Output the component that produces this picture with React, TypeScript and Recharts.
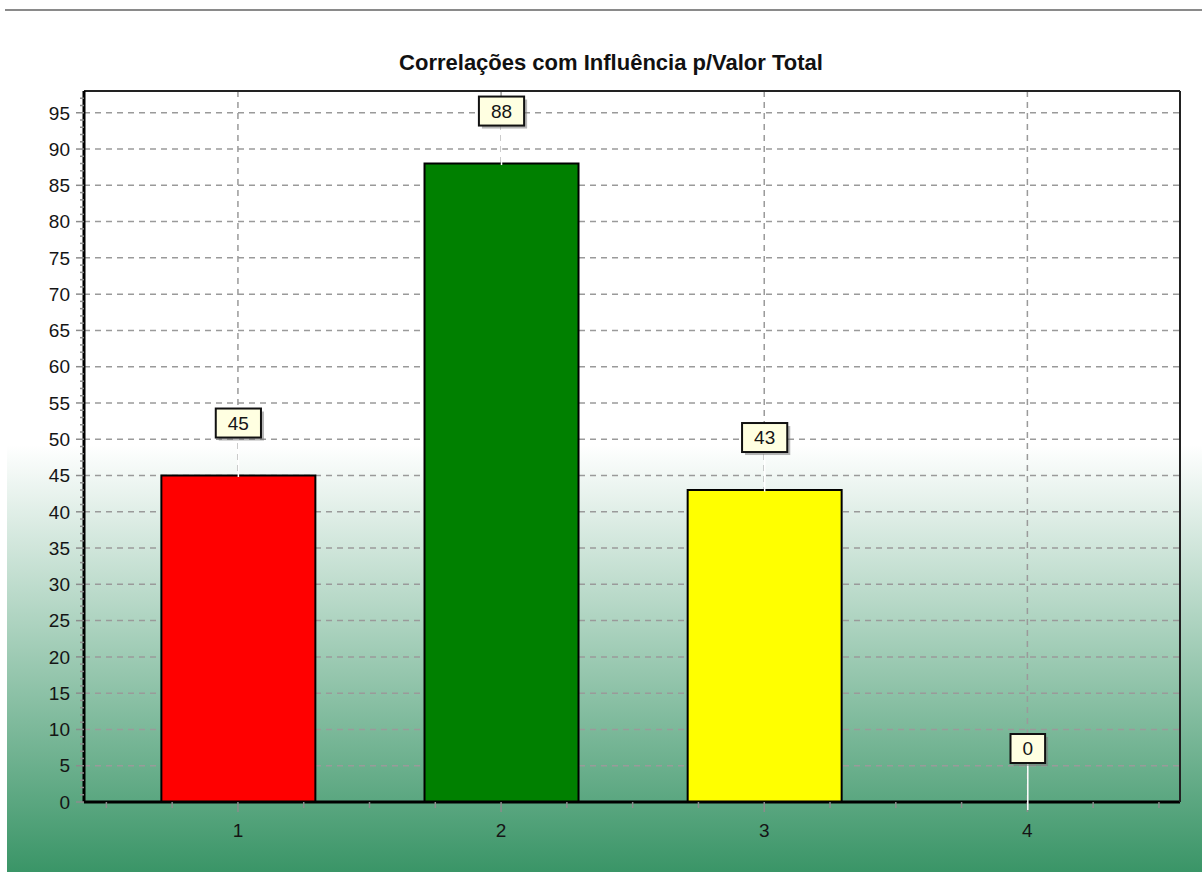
import React from 'react';
import { BarChart, Bar, XAxis, YAxis, CartesianGrid, Cell, LabelList } from 'recharts';

// Chart content
const chartTitle = 'Correlações com Influência p/Valor Total';
const categories = [1, 2, 3, 4];
const values = [45, 88, 43, 0];
const barColors = ['#ff0000', '#008000', '#ffff00', '#000000'];

// Axis ticks
const yMajorTicks = [0, 5, 10, 15, 20, 25, 30, 35, 40, 45, 50, 55, 60, 65, 70, 75, 80, 85, 90, 95];
const yGridValues = [5, 10, 15, 20, 25, 30, 35, 40, 45, 50, 55, 60, 65, 70, 75, 80, 85, 90, 95];
const xAllTicks = [0.5, 0.75, 1, 1.25, 1.5, 1.75, 2, 2.25, 2.5, 2.75, 3, 3.25, 3.5, 3.75, 4, 4.25, 4.5];
const X_DOMAIN: [number, number] = [0.415, 4.58];
const Y_DOMAIN: [number, number] = [0, 98];
const yAllTicks = Array.from({ length: 98 }, (_, i) => i);

const data = categories.map((c, i) => ({ x: c, value: values[i] }));

const FONT = '"Liberation Sans", Arial, sans-serif';
const TICK_COLOR = '#8c8c8c';
const TEXT_COLOR = '#151515';

const YTick = (props: any) => {
  const { x, y, payload } = props;
  const v = payload.value as number;
  const major = yMajorTicks.includes(v);
  return (
    <g>
      <line x1={x} x2={x - (major ? 8 : 4)} y1={y} y2={y} stroke={TICK_COLOR} strokeWidth={1.5} />
      {major && (
        <text x={x - 14} y={y} dy="0.355em" textAnchor="end" fontSize={19} fontFamily={FONT} fill={TEXT_COLOR}>
          {v}
        </text>
      )}
    </g>
  );
};

const XTick = (props: any) => {
  const { x, y, payload } = props;
  const v = payload.value as number;
  const major = categories.includes(v);
  return (
    <g>
      <line x1={x} x2={x} y1={y} y2={y + (major ? 10 : 6)} stroke={TICK_COLOR} strokeWidth={1.5} />
      {major && (
        <text x={x} y={y + 35} textAnchor="middle" fontSize={19} fontFamily={FONT} fill={TEXT_COLOR}>
          {v}
        </text>
      )}
    </g>
  );
};

// Boxed value tag above each bar, joined to the bar by a thin white leader
const ValueTag = (props: any) => {
  const vb = props.viewBox ?? {};
  const x = Number(vb.x ?? props.x);
  const y = Number(vb.y ?? props.y);
  const w = Number(vb.width ?? props.width);
  const h = Number(vb.height ?? props.height ?? 0);
  const top = h < 0 ? y + h : y;
  const cx = x + w / 2;
  const text = String(props.value);
  const boxW = text.length * 10.6 + 24;
  const boxH = 29;
  const boxBottom = top - 38;
  const boxTop = boxBottom - boxH;
  const leaderEnd = Number(props.value) === 0 ? top + 9 : top + 1.5;
  return (
    <g>
      <line x1={cx} x2={cx} y1={boxBottom} y2={leaderEnd} stroke="#ffffff" strokeWidth={1.5} />
      <rect x={cx - boxW / 2 + 3} y={boxTop + 3} width={boxW} height={boxH} fill="#7a7a7a" opacity={0.55} />
      <rect x={cx - boxW / 2} y={boxTop} width={boxW} height={boxH} fill="#ffffe1" stroke="#111111" strokeWidth={2} />
      <text x={cx} y={boxTop + boxH / 2} dy="0.355em" textAnchor="middle" fontSize={19} fontFamily={FONT} fill={TEXT_COLOR}>
        {text}
      </text>
    </g>
  );
};

export default function App() {
  return (
    <div
      style={{
        position: 'absolute',
        left: 0,
        top: 0,
        width: 1202,
        height: 872,
        background: '#ffffff',
        overflow: 'hidden',
        fontFamily: FONT,
      }}
    >
      <div
        style={{
          position: 'absolute',
          left: 7,
          top: 0,
          right: 0,
          bottom: 0,
          background: 'linear-gradient(180deg, #ffffff 0px, #ffffff 445px, #3a9567 872px)',
        }}
      />
      <div style={{ position: 'absolute', left: 5, top: 9, width: 1197, height: 2, background: '#8a8a8a' }} />
      <div
        style={{
          position: 'absolute',
          left: 211,
          top: 52,
          width: 800,
          textAlign: 'center',
          fontSize: 22,
          lineHeight: '22px',
          fontWeight: 'bold',
          color: '#111111',
          fontFamily: FONT,
        }}
      >
        {chartTitle}
      </div>
      <div style={{ position: 'absolute', left: 0, top: 0 }}>
        <BarChart width={1202} height={872} data={data} margin={{ top: 90, right: 21, bottom: 30, left: 14 }}>
          <CartesianGrid
            stroke="#9a9a9a"
            strokeWidth={1.5}
            strokeDasharray="6 5"
            horizontalValues={yGridValues}
            verticalValues={categories}
          />
          <XAxis
            dataKey="x"
            type="number"
            domain={X_DOMAIN}
            allowDataOverflow
            ticks={xAllTicks}
            interval={0}
            height={40}
            tickSize={0}
            tickMargin={0}
            tickLine={false}
            tick={<XTick />}
            axisLine={{ stroke: '#000000', strokeWidth: 3 }}
          />
          <XAxis
            xAxisId="top"
            orientation="top"
            type="number"
            domain={X_DOMAIN}
            allowDataOverflow
            ticks={[1]}
            height={1}
            tick={false}
            tickLine={false}
            axisLine={{ stroke: '#222222', strokeWidth: 2 }}
          />
          <YAxis
            type="number"
            domain={Y_DOMAIN}
            allowDataOverflow
            ticks={yAllTicks}
            interval={0}
            width={70}
            tickSize={0}
            tickMargin={0}
            tickLine={false}
            tick={<YTick />}
            axisLine={{ stroke: '#000000', strokeWidth: 3 }}
          />
          <YAxis
            yAxisId="right"
            orientation="right"
            type="number"
            domain={Y_DOMAIN}
            allowDataOverflow
            ticks={[0]}
            width={1}
            tick={false}
            tickLine={false}
            axisLine={{ stroke: '#222222', strokeWidth: 2 }}
          />
          <Bar
            dataKey="value"
            barSize={154}
            minPointSize={1}
            stroke="#000000"
            strokeWidth={2}
            isAnimationActive={false}
          >
            {data.map((d, i) => (
              <Cell key={d.x} fill={barColors[i]} strokeWidth={d.value > 0 ? 2 : 0} />
            ))}
            <LabelList dataKey="value" content={<ValueTag />} />
          </Bar>
        </BarChart>
      </div>
    </div>
  );
}
